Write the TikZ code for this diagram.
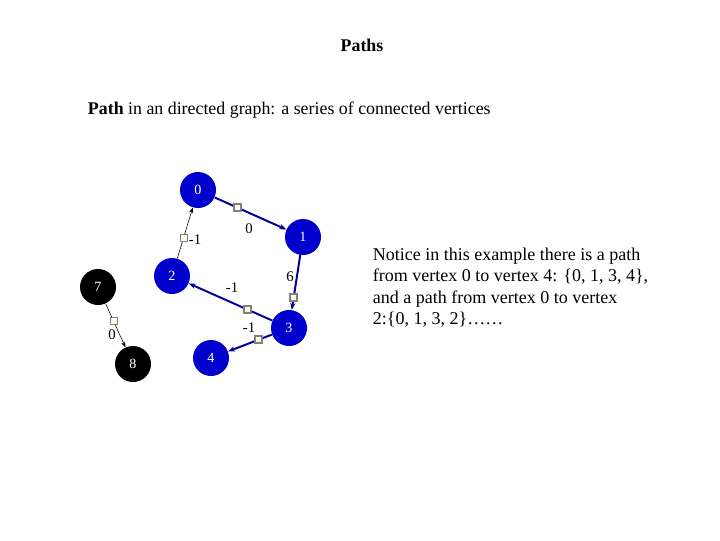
\documentclass[tikz,border=0pt]{standalone}
\usepackage{fontspec}
\setmainfont{Liberation Serif}
\usetikzlibrary{arrows.meta}
\tikzset{
	vtx/.style={circle, fill=blue!80!black, text=white, minimum size=36*0.025cm, inner sep=0pt, font=\fontsize{10}{11}\selectfont},
	blk/.style={vtx, fill=black},
	heavy/.style={draw=blue!60!black, line width=1.4pt, -{Stealth[length=5pt]}},
	light/.style={draw=black, thin, -{Stealth[length=4pt]}},
	tag/.style={draw=black!50, fill=yellow!10, minimum size=7*0.025cm, inner sep=0pt},
	wt/.style={font=\fontsize{10.5}{11}\selectfont}
}
\begin{document}
\begin{tikzpicture}[x=0.025cm, y=-0.025cm]
	\useasboundingbox (0,0) rectangle (720,540);

	\node[font=\fontsize{12.7}{14}\selectfont\bfseries] (title) at (362,45) {Paths};
	\node[anchor=west, font=\fontsize{12.7}{15}\selectfont] (intro) at (83,110) {\textbf{Path} in an directed graph: a series of connected vertices};

	\node[vtx] (v0) at (198,190) {0};
	\node[vtx] (v1) at (303,237) {1};
	\node[vtx] (v2) at (172,276) {2};
	\node[vtx] (v3) at (289,328) {3};
	\node[vtx] (v4) at (211,358) {4};
	\node[blk] (v7) at (98,287) {7};
	\node[blk] (v8) at (133,364) {8};

	\draw[heavy] (v0) -- node[tag, pos=0.32] {} (v1);
	\draw[heavy] (v1) -- node[tag, pos=0.78] {} (v3);
	\draw[heavy] (v3) -- node[tag, pos=0.3] {} (v2);
	\draw[heavy] (v3) -- node[tag, pos=0.3] {} (v4);
	\draw[light] (v2) -- node[tag, pos=0.4] {} (v0);
	\draw[light] (v7) -- node[tag, pos=0.4] {} (v8);

	\node[wt] (w01) at (249,229) {0};
	\node[wt] (w20) at (195,240) {-1};
	\node[wt] (w13) at (290,277) {6};
	\node[wt] (w32) at (232,288) {-1};
	\node[wt] (w34) at (249,328) {-1};
	\node[wt] (w78) at (112,335) {0};

	\node[anchor=north west, align=left, font=\fontsize{12.8}{15.2}\selectfont] (note) at (368,243)
		{Notice in this example there is a path\\ from vertex 0 to vertex 4: \{0, 1, 3, 4\},\\ and a path from vertex 0 to vertex\\ 2:\{0, 1, 3, 2\}\dots\dots};
\end{tikzpicture}
\end{document}
